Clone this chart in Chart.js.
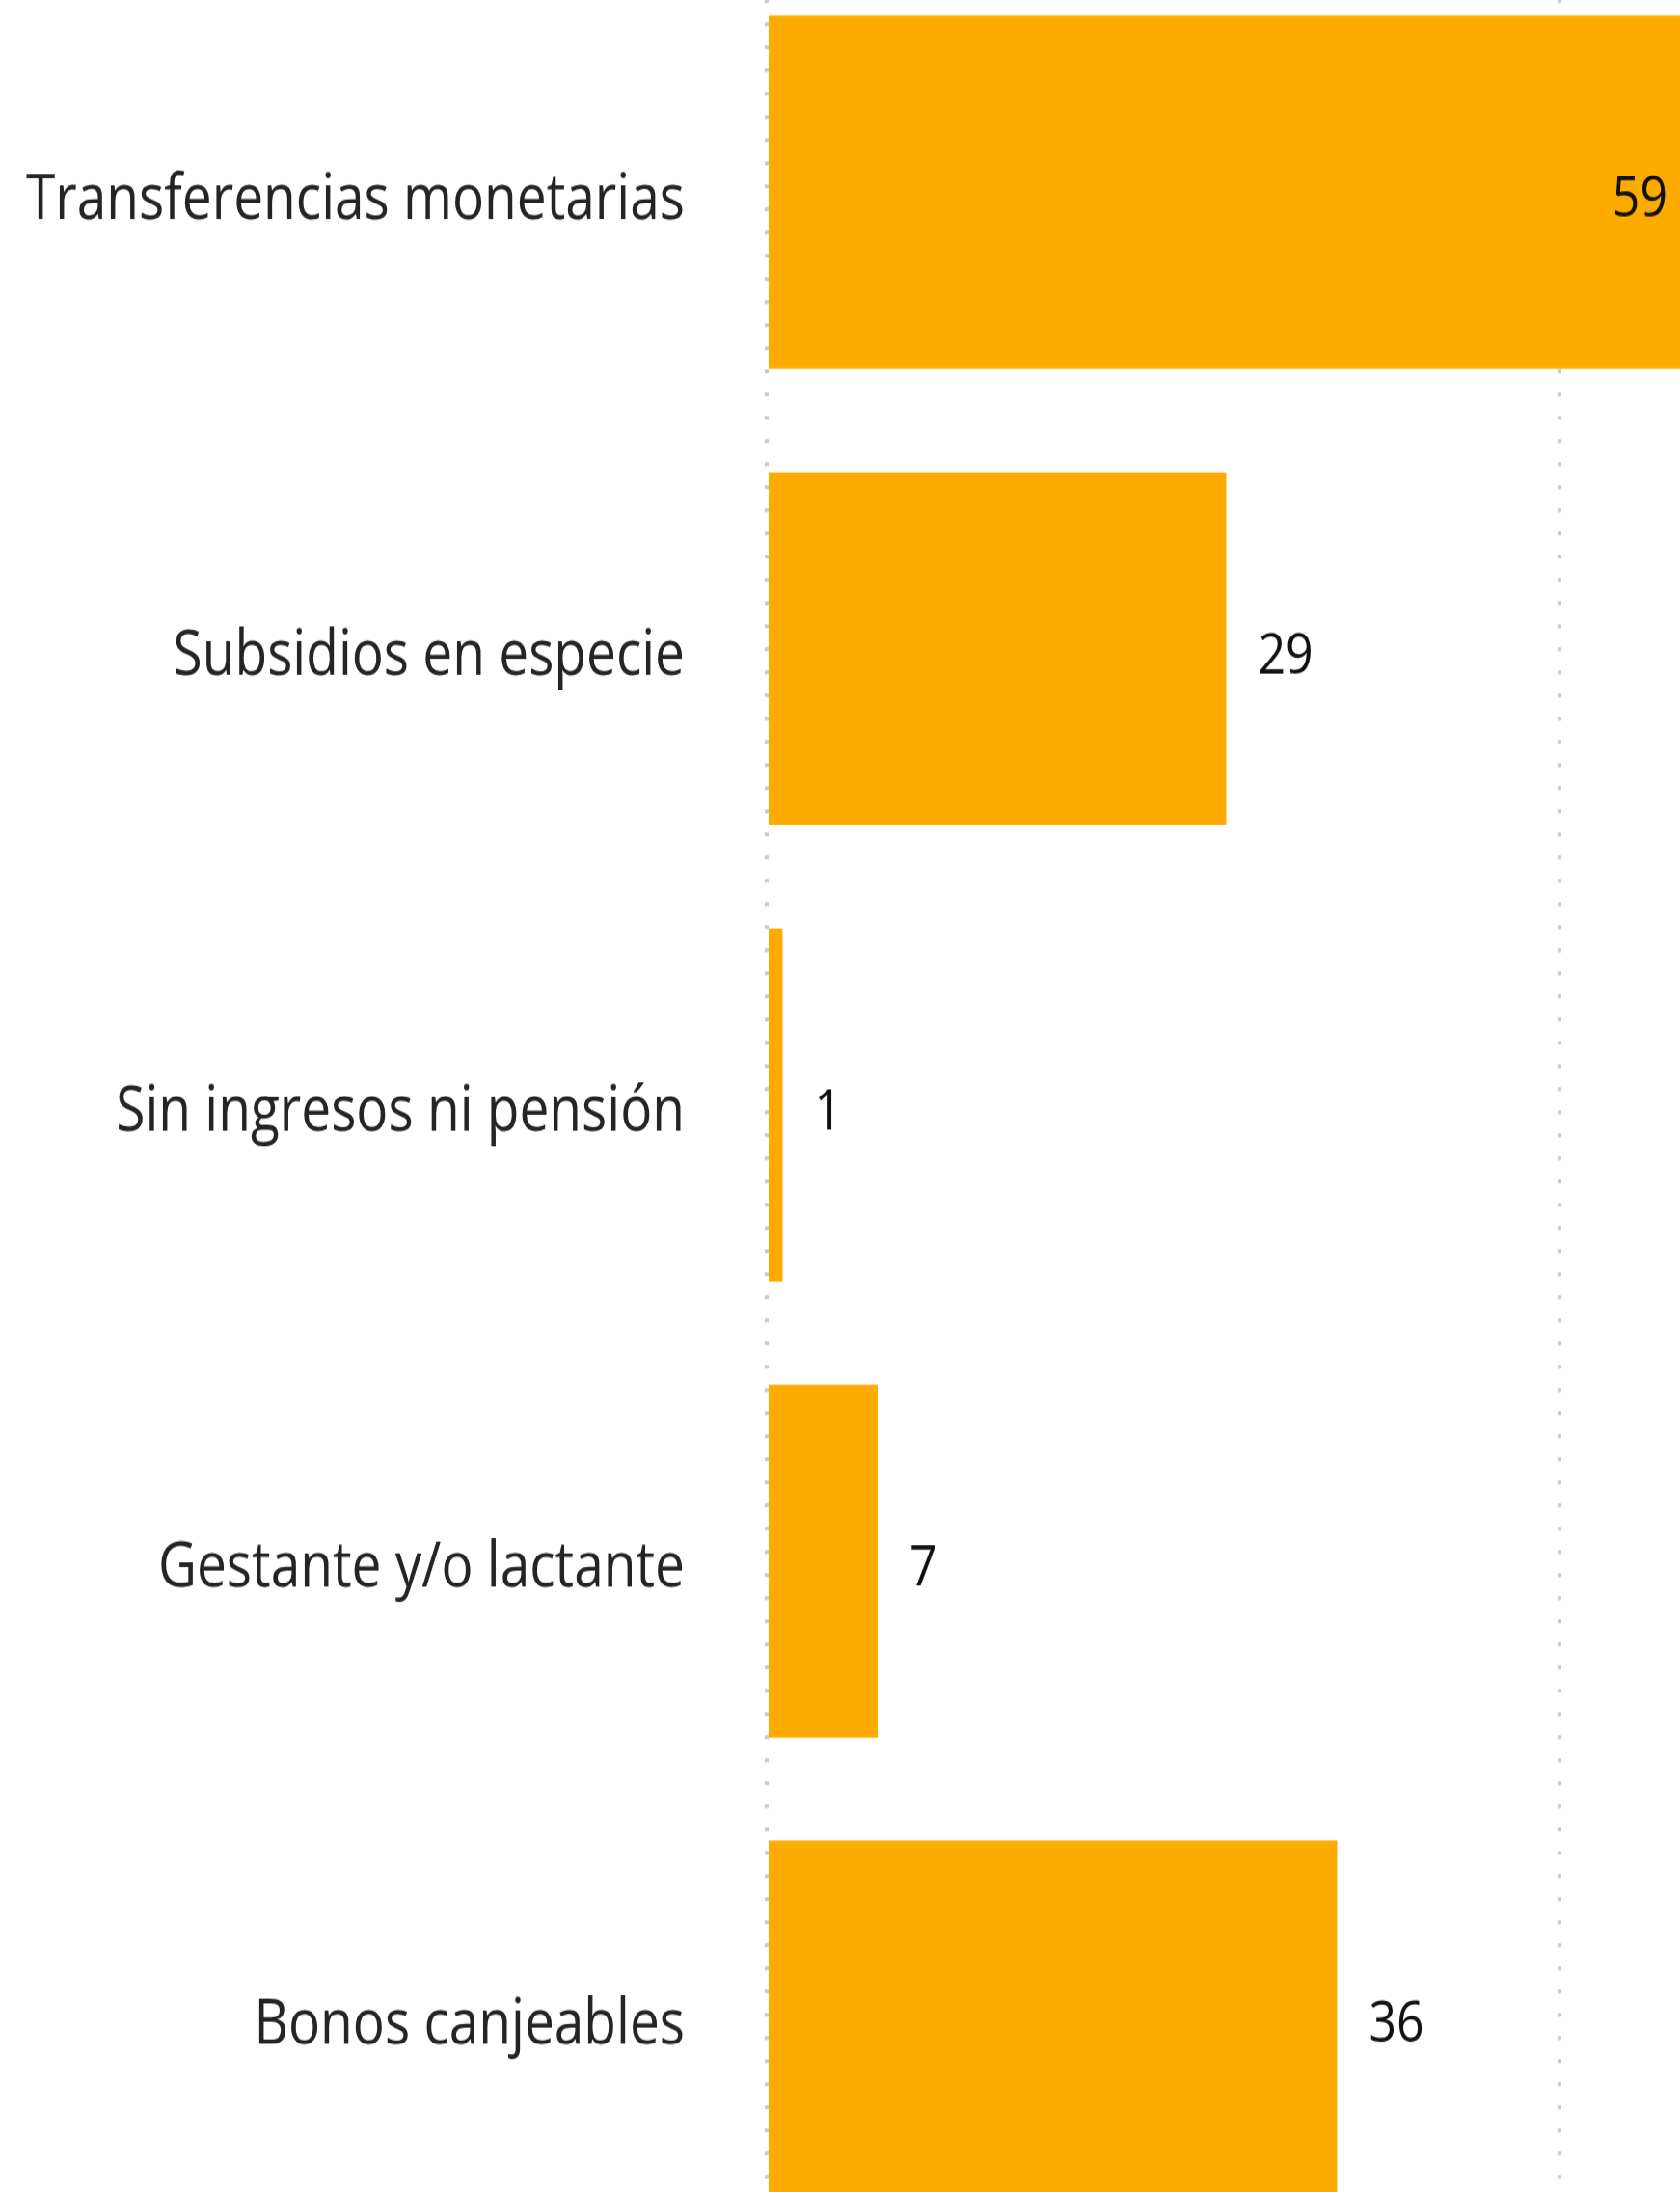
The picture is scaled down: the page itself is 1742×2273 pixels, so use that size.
<!DOCTYPE html>
<html>
<head>
<meta charset="utf-8">
<script src="https://cdn.jsdelivr.net/npm/chart.js@4"></script>
<style>
    html, body { margin: 0; padding: 0; background: #fff; overflow: hidden; }
    #frame { position: absolute; left: 0; top: 0; width: 1742px; height: 2273px; overflow: hidden; }
    #chart-test { position: absolute; left: 0; top: -37px; transform: scaleY(1.2); transform-origin: 0 0; }
</style>
</head>
<body>
<div id="frame">
    <canvas id="chart-test" width="2438" height="1971"></canvas>
</div>
<script>
const labels = ["Transferencias monetarias", "Subsidios en especie", "Sin ingresos ni pensión", "Gestante y/o lactante", "Bonos canjeables"];
const values = [59, 29, 1, 7, 36];
const xTicks = [0, 50, 100];

const stretch = 1.2;       // the picture is taller than it is wide
const visibleWidth = 1742;
const textDrop = 7;        // push text down to sit on the bar centre

const colors = {
    bar: "#FEAB00",
    grid: "#C8C8C8",
    label: "#252423",
    value: "#111111"
};

const fontFamily = "'Segoe UI', 'Open Sans', sans-serif";

const valueLabels = {
    id: 'valueLabels',
    afterDatasetsDraw(chart) {
        const c = chart.ctx;
        const meta = chart.getDatasetMeta(0);
        c.save();
        c.font = "50px " + fontFamily;
        c.fillStyle = colors.value;
        c.textBaseline = "middle";
        meta.data.forEach((bar, i) => {
            const text = String(values[i]);
            const w = c.measureText(text).width;
            if (bar.x + 33 + w > visibleWidth) {
                c.textAlign = "right";
                c.fillText(text, Math.min(bar.x, visibleWidth) - 13, bar.y + textDrop);
            } else {
                c.textAlign = "left";
                c.fillText(text, bar.x + 33, bar.y + textDrop);
            }
        });
        c.restore();
    }
};

const ctx = document.getElementById('chart-test').getContext("2d");

const options = {
    type: "bar",
    data: {
        labels: labels,
        datasets: [{
            data: values,
            backgroundColor: colors.bar,
            borderWidth: 0,
            barPercentage: 0.774,
            categoryPercentage: 1
        }]
    },
    options: {
        indexAxis: 'y',
        responsive: false,
        animation: false,
        layout: { padding: 0 },
        plugins: {
            legend: { display: false },
            tooltip: { enabled: false }
        },
        scales: {
            x: {
                min: xTicks[0],
                max: xTicks[xTicks.length - 1],
                afterBuildTicks: (scale) => {
                    scale.ticks = xTicks.map(v => ({ value: v }));
                },
                border: {
                    display: false,
                    dash: [4 / stretch, 20 / stretch],
                    dashOffset: 11.8 / stretch
                },
                grid: {
                    drawTicks: false,
                    color: colors.grid,
                    lineWidth: 4
                },
                ticks: { display: false }
            },
            y: {
                afterFit: (scale) => {
                    scale.width = 795;
                    scale.paddingTop = 0;
                    scale.paddingBottom = 0;
                },
                border: { display: false },
                grid: { display: false, drawTicks: false },
                ticks: {
                    padding: 85,
                    labelOffset: textDrop,
                    color: colors.label,
                    font: { family: fontFamily, size: 55 }
                }
            }
        }
    },
    plugins: [valueLabels]
};

window.myBars = new Chart(ctx, options);
</script>
</body>
</html>
